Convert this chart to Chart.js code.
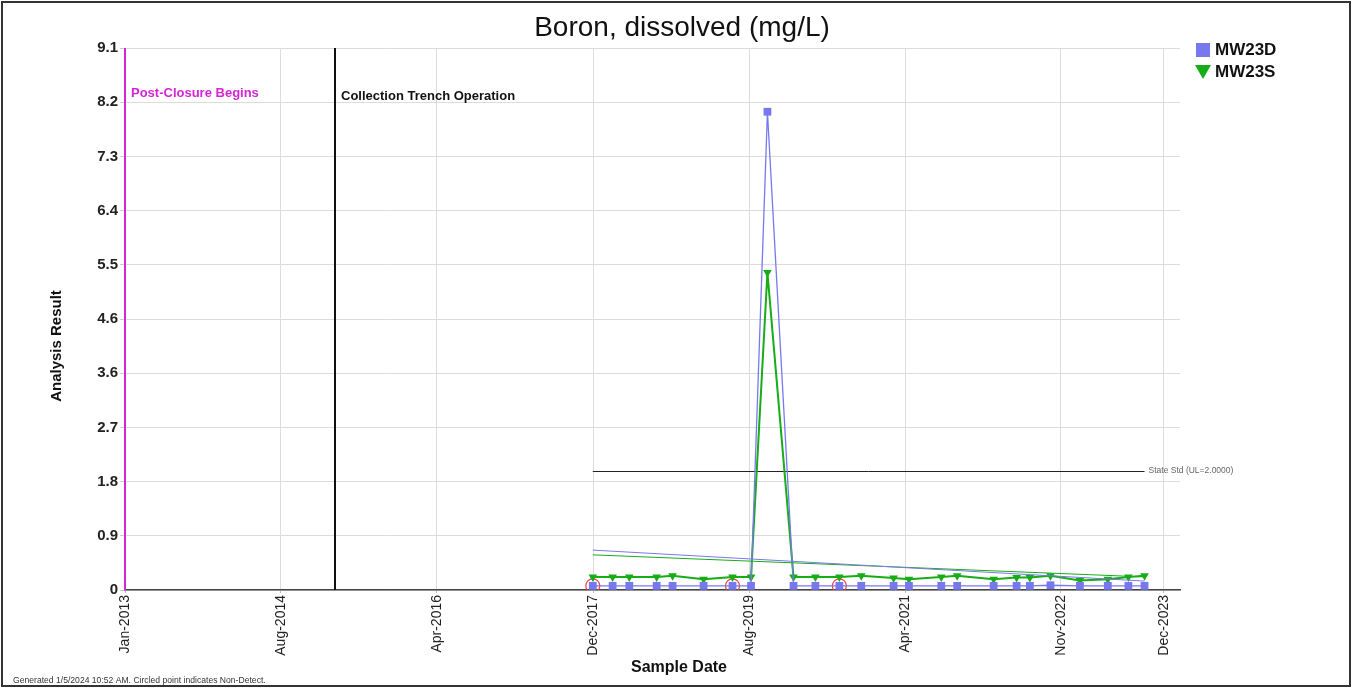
<!DOCTYPE html>
<html>
<head>
<meta charset="utf-8">
<title>Boron, dissolved (mg/L)</title>
<script src="https://cdn.jsdelivr.net/npm/chart.js@4.4.1/dist/chart.umd.min.js"></script>
<style>
  html, body { margin: 0; padding: 0; background: #fff; }
  #wrap { position: relative; width: 1356px; height: 688px; }
</style>
</head>
<body>
<div id="wrap"><canvas id="chart" width="1356" height="688"></canvas></div>
<script>
const FONT = '"Liberation Sans", Arial, sans-serif';
const DAY0 = Date.UTC(2013, 0, 1);
const toDay = s => (Date.parse(s) - DAY0) / 86400000;

// sampling events (both wells sampled the same day)
const sampleDates = [
  '2017-12-01', '2018-02-15', '2018-04-20', '2018-08-03', '2018-10-03',
  '2019-01-30', '2019-05-21', '2019-07-31', '2019-10-02', '2020-01-10',
  '2020-04-03', '2020-07-04', '2020-09-26', '2021-01-28', '2021-03-28',
  '2021-07-30', '2021-09-29', '2022-02-16', '2022-05-15', '2022-07-05',
  '2022-09-22', '2023-01-13', '2023-04-30', '2023-07-18', '2023-09-18'
];
const mw23d = [
  0.07, 0.07, 0.07, 0.07, 0.07, 0.07, 0.07, 0.07, 8.03, 0.07,
  0.07, 0.07, 0.07, 0.07, 0.07, 0.07, 0.07, 0.07, 0.07, 0.07,
  0.08, 0.07, 0.07, 0.07, 0.07
];
const mw23s = [
  0.22, 0.22, 0.22, 0.22, 0.24, 0.18, 0.22, 0.22, 5.33, 0.22,
  0.22, 0.22, 0.24, 0.20, 0.18, 0.22, 0.24, 0.18, 0.21, 0.21,
  0.24, 0.16, 0.18, 0.22, 0.24
];
// circled = non-detect (MW23D)
const mw23dNonDetect = [
  true, false, false, false, false, false, true, false, false, false,
  false, true, false, false, false, false, false, false, false, false,
  false, false, false, false, false
];

// trend lines
const trendDates = ['2017-12-01', '2023-09-18'];
const mw23dTrend = [0.67, 0.15];
const mw23sTrend = [0.59, 0.22];

// state standard
const stdDates = ['2017-12-01', '2023-09-18'];
const stdValue = 2.0;
const stdLabel = 'State Std (UL=2.0000)';

// event markers
const eventDates = ['2013-01-01', '2015-03-18'];
const eventLabels = ['Post-Closure Begins', 'Collection Trench Operation'];
const eventColors = ['#d524d5', '#111111'];

// axes
const xTickDates = ['2013-01-01', '2014-08-22', '2016-04-12', '2017-12-02', '2019-07-24', '2021-03-14', '2022-11-01', '2023-12-01'];
const xTickLabels = ['Jan-2013', 'Aug-2014', 'Apr-2016', 'Dec-2017', 'Aug-2019', 'Apr-2021', 'Nov-2022', 'Dec-2023'];
const yTickValues = [0, 0.91, 1.82, 2.73, 3.64, 4.55, 5.46, 6.37, 7.28, 8.19, 9.1];
const yTickLabels = ['0', '0.9', '1.8', '2.7', '3.6', '4.6', '5.5', '6.4', '7.3', '8.2', '9.1'];

const BLUE = '#7878ee';
const GREEN = '#16ad16';

const pts = (dates, vals) => dates.map((d, i) => ({ x: toDay(d), y: vals[i] }));

const overlay = {
  id: 'overlay',
  beforeDatasetsDraw(chart) {
    const { ctx, chartArea: a, scales: { x, y } } = chart;
    ctx.save();
    eventDates.forEach((d, i) => {
      const px = Math.round(x.getPixelForValue(toDay(d)));
      ctx.strokeStyle = eventColors[i];
      ctx.lineWidth = 2;
      ctx.beginPath();
      ctx.moveTo(px, a.top);
      ctx.lineTo(px, a.bottom);
      ctx.stroke();
      ctx.fillStyle = eventColors[i];
      ctx.font = 'bold 13px ' + FONT;
      ctx.textBaseline = 'middle';
      ctx.textAlign = 'left';
      ctx.fillText(eventLabels[i], px + 6, a.top + 45 + i * 3);
    });
    // state standard line
    const sy = Math.round(y.getPixelForValue(stdValue)) + 0.5;
    const x1 = x.getPixelForValue(toDay(stdDates[0]));
    const x2 = x.getPixelForValue(toDay(stdDates[1]));
    ctx.strokeStyle = '#222';
    ctx.lineWidth = 1;
    ctx.beginPath();
    ctx.moveTo(x1, sy);
    ctx.lineTo(x2, sy);
    ctx.stroke();
    ctx.fillStyle = '#666';
    ctx.font = '8.5px ' + FONT;
    ctx.textBaseline = 'middle';
    ctx.fillText(stdLabel, x2 + 4, sy - 1);
    ctx.restore();
  },
  afterDraw(chart) {
    const { ctx } = chart;
    ctx.save();
    // title
    ctx.fillStyle = '#111';
    ctx.textAlign = 'center';
    ctx.textBaseline = 'middle';
    ctx.font = '28px ' + FONT;
    ctx.fillText('Boron, dissolved (mg/L)', 682, 28);
    // axis titles
    ctx.font = 'bold 16px ' + FONT;
    ctx.fillText('Sample Date', 679, 668);
    ctx.save();
    ctx.translate(57, 346);
    ctx.rotate(-Math.PI / 2);
    ctx.font = 'bold 15px ' + FONT;
    ctx.fillText('Analysis Result', 0, 0);
    ctx.restore();
    // legend
    ctx.textAlign = 'left';
    ctx.fillStyle = BLUE;
    ctx.fillRect(1196, 43, 14, 14);
    ctx.fillStyle = GREEN;
    ctx.beginPath();
    ctx.moveTo(1195, 65);
    ctx.lineTo(1211, 65);
    ctx.lineTo(1203, 79);
    ctx.closePath();
    ctx.fill();
    ctx.fillStyle = '#111';
    ctx.font = 'bold 17px ' + FONT;
    ctx.fillText('MW23D', 1215, 50);
    ctx.fillText('MW23S', 1215, 72);
    // footer
    ctx.font = '8.6px ' + FONT;
    ctx.fillStyle = '#333';
    ctx.fillText('Generated 1/5/2024 10:52 AM. Circled point indicates Non-Detect.', 13, 681);
    // frame
    ctx.strokeStyle = '#333';
    ctx.lineWidth = 2;
    ctx.strokeRect(2, 2, 1348, 684);
    ctx.restore();
  }
};

new Chart(document.getElementById('chart'), {
  type: 'line',
  data: {
    datasets: [
      {
        label: 'MW23D trend',
        data: pts(trendDates, mw23dTrend),
        borderColor: BLUE,
        borderWidth: 1,
        pointRadius: 0
      },
      {
        label: 'MW23S trend',
        data: pts(trendDates, mw23sTrend),
        borderColor: GREEN,
        borderWidth: 1,
        pointRadius: 0
      },
      {
        label: 'MW23D',
        data: pts(sampleDates, mw23d),
        borderColor: BLUE,
        backgroundColor: BLUE,
        borderWidth: 1.3,
        pointStyle: 'rect',
        pointRadius: 5.5,
        pointBorderWidth: 0
      },
      {
        label: 'MW23S',
        data: pts(sampleDates, mw23s),
        borderColor: GREEN,
        backgroundColor: GREEN,
        borderWidth: 2,
        pointStyle: 'triangle',
        pointRotation: 180,
        pointRadius: 5,
        pointBorderWidth: 0
      },
      {
        label: 'Non-Detect',
        data: pts(sampleDates, mw23d).filter((p, i) => mw23dNonDetect[i]),
        showLine: false,
        pointStyle: 'circle',
        pointRadius: 7,
        pointBorderColor: '#ee4444',
        pointBackgroundColor: 'rgba(0,0,0,0)',
        pointBorderWidth: 1.2
      }
    ]
  },
  options: {
    responsive: false,
    animation: false,
    devicePixelRatio: 1,
    layout: { padding: { top: 48, right: 176, left: 0, bottom: 0 } },
    plugins: {
      legend: { display: false },
      tooltip: { enabled: false },
      title: { display: false }
    },
    scales: {
      x: {
        type: 'linear',
        min: 0,
        max: toDay('2024-02-01'),
        afterBuildTicks: s => { s.ticks = xTickDates.map(d => ({ value: toDay(d) })); },
        afterFit: s => { s.height = 98; },
        ticks: {
          callback: (v, i) => xTickLabels[i],
          autoSkip: false,
          maxRotation: 90,
          minRotation: 90,
          padding: 2,
          color: '#222',
          font: { family: FONT, size: 14 }
        },
        grid: { color: '#dcdcdc', tickLength: 3, tickColor: '#bbb' },
        border: { color: '#444', width: 1.5 }
      },
      y: {
        min: 0,
        max: 9.1,
        afterBuildTicks: s => { s.ticks = yTickValues.map(v => ({ value: v })); },
        afterFit: s => { s.width = 125; },
        ticks: {
          callback: (v, i) => yTickLabels[i],
          padding: 2,
          color: '#222',
          font: { family: FONT, size: 15, weight: 'bold' }
        },
        grid: { color: '#dcdcdc', tickLength: 5, tickColor: '#ccc' },
        border: { color: '#999' }
      }
    }
  },
  plugins: [overlay]
});
</script>
</body>
</html>
